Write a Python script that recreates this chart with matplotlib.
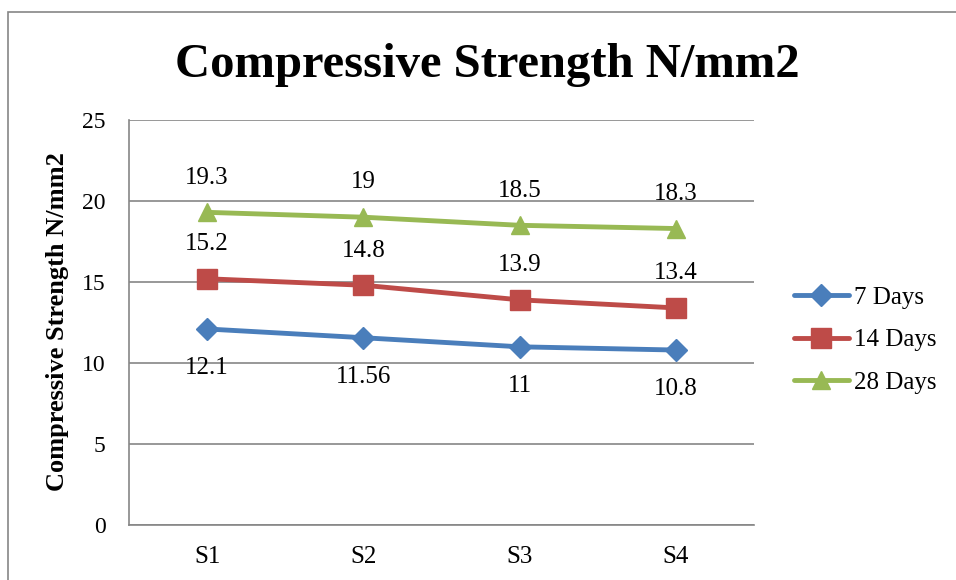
import matplotlib
matplotlib.use("Agg")
import matplotlib.pyplot as plt
from matplotlib.patches import Rectangle

plt.rcParams['font.family'] = ['Liberation Serif', 'DejaVu Serif']

categories = ["S1", "S2", "S3", "S4"]
days7 = [12.1, 11.56, 11, 10.8]
days14 = [15.2, 14.8, 13.9, 13.4]
days28 = [19.3, 19, 18.5, 18.3]
labels7 = ["12.1", "11.56", "11", "10.8"]
labels14 = ["15.2", "14.8", "13.9", "13.4"]
labels28 = ["19.3", "19", "18.5", "18.3"]
yticks = [0, 5, 10, 15, 20, 25]

W, H = 956, 580
fig = plt.figure(figsize=(W / 100, H / 100), dpi=100)
ax = fig.add_axes([129 / W, 1 - 525 / H, (754 - 129) / W, (525 - 120) / H])

# outer chart frame
fig.patches.append(Rectangle((8 / W, -0.1), 1.2, 1 - 12 / H + 0.1,
                             transform=fig.transFigure, fill=False,
                             edgecolor="#868686", linewidth=1.2))

x = range(len(categories))
series = [
    (days7, labels7, "7 Days", "#4A7EBB", "D", 11, -28),
    (days14, labels14, "14 Days", "#BE4B48", "s", 14, 25),
    (days28, labels28, "28 Days", "#98B954", "^", 13, 25),
]
for vals, labs, name, col, mk, ms, off in series:
    ax.plot(x, vals, color=col, linewidth=3.5, marker=mk, markersize=ms,
            label=name, solid_capstyle="round")
    for xi, v, t in zip(x, vals, labs):
        ax.annotate(t, (xi, v), xytext=(0, off), textcoords="offset points",
                    ha="center", va="center", fontsize=18)

ax.set_xlim(-0.5, 3.5)
ax.set_ylim(0, 25)
ax.set_yticks(yticks)
ax.set_xticks(list(x))
ax.set_xticklabels(categories)
ax.tick_params(axis="both", length=0)
ax.tick_params(axis="y", pad=17, labelsize=17)
ax.tick_params(axis="x", pad=15, labelsize=18)
ax.grid(axis="y", color="#868686", linewidth=1.2)
ax.set_axisbelow(True)
for s in ["top", "right"]:
    ax.spines[s].set_visible(False)
for s in ["left", "bottom"]:
    ax.spines[s].set_color("#868686")
    ax.spines[s].set_linewidth(1.2)

fig.text(58 / W, 1 - 322 / H, "Compressive Strength N/mm2", rotation=90,
         ha="center", va="center", fontsize=19, fontweight="bold")
fig.text(487 / W, 1 - 77 / H, "Compressive Strength N/mm2", ha="center",
         va="baseline", fontsize=35, fontweight="bold")

ax.legend(loc="center left", bbox_to_anchor=(771 / W, 1 - 340 / H),
          bbox_transform=fig.transFigure, frameon=False, fontsize=18,
          handlelength=2.2, handletextpad=0.2, labelspacing=0.8)

fig.savefig("out.png", dpi=100)
